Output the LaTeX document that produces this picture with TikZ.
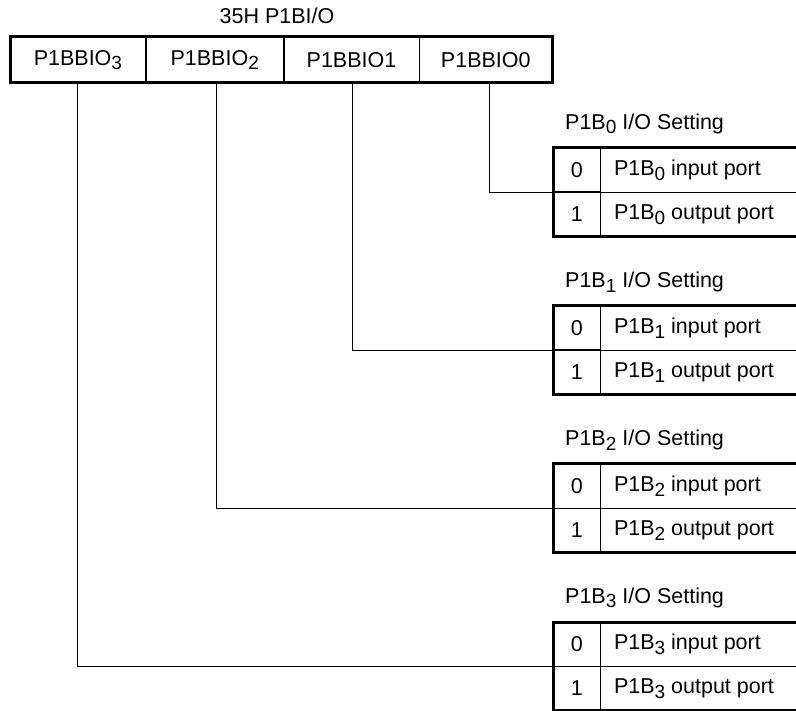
\documentclass[tikz,border=0pt]{standalone}
\usepackage{fontspec}
\setmainfont{Liberation Sans}
\newcommand\low[1]{\raisebox{-.4ex}{\fontsize{19}{19}\selectfont #1}}

\begin{document}
\begin{tikzpicture}[x=1pt, y=-1pt, every node/.style={font=\fontsize{21.5}{25}\selectfont, inner sep=0pt}]
  \tikzset{
    reg/.style={draw, line width=0.8pt, minimum height=45pt, anchor=north west},
    bitval/.style={draw, line width=0.8pt, minimum width=47pt, minimum height=43.5pt, anchor=north west},
    desc/.style={anchor=west, inner xsep=13pt},
    frame/.style={line width=3pt},
    link/.style={line width=1.1pt}
  }
  \useasboundingbox (0,0) rectangle (796,711);
  % register 35H
  \node (head) at (277,16) {35H P1BI/O};
  \node[reg, minimum width=135pt] (c3) at (10,37) {P1BBIO\low{3}};
  \node[reg, minimum width=137pt] (c2) at (c3.north east) {P1BBIO\low{2}};
  \node[reg, minimum width=135pt] (c1) at (c2.north east) {P1BBIO1};
  \node[reg, minimum width=132pt] (c0) at (c1.north east) {P1BBIO0};
  \draw[frame] (c3.north west) rectangle (c0.south east);
  % settings tables
  \foreach \k/\dx in {0/4,1/1,2/1.5,3/0} {
    \pgfmathsetmacro\ytop{148+158*\k}
    \node[anchor=west] (t\k) at (565,\ytop-24) {P1B\low{\k} I/O Setting};
    \node[bitval] (z\k) at (553,\ytop) {0};
    \node[bitval] (o\k) at (z\k.south west) {1};
    \node[desc] (zd\k) at (z\k.east) {P1B\low{\k} input port};
    \node[desc] (od\k) at (o\k.east) {P1B\low{\k} output port};
    \draw[line width=0.8pt] (z\k.south east) -- ([xshift=250pt]z\k.south east);
    \draw[frame] ([xshift=250pt]z\k.north east) -- (z\k.north west) -- (o\k.south west) -- ([xshift=250pt]o\k.south east);
    \draw[link] ([xshift=\dx pt]c\k.south) |- (z\k.south west);
  }
\end{tikzpicture}
\end{document}
